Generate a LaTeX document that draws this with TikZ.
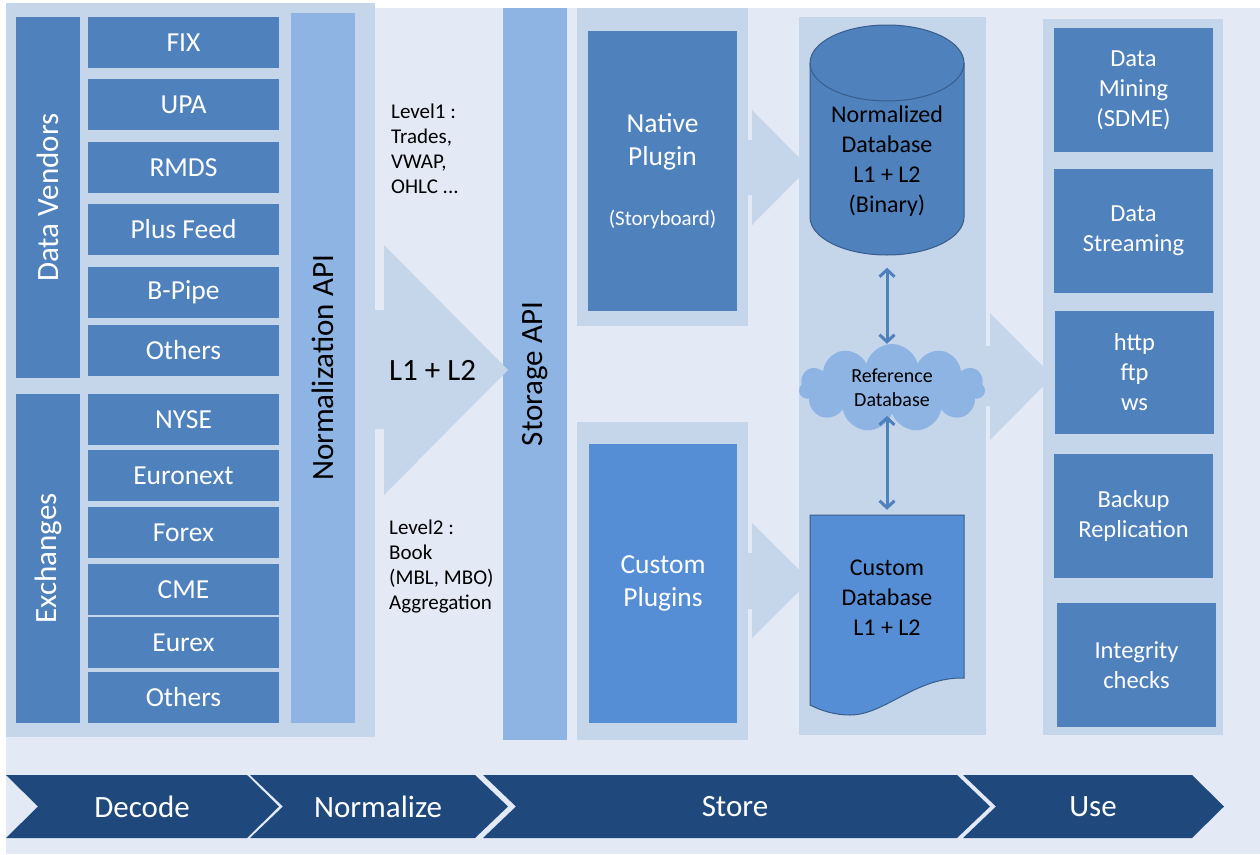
\documentclass[tikz,border=0pt]{standalone}
\usepackage{fontspec}
\setmainfont{Carlito}
\usetikzlibrary{arrows.meta,shapes.symbols,positioning}

\definecolor{pagebg}{RGB}{227,234,246}
\definecolor{panel}{RGB}{197,213,234}
\definecolor{apibar}{RGB}{142,180,227}
\definecolor{box}{RGB}{79,129,189}
\definecolor{custbox}{RGB}{85,142,213}
\definecolor{dbedge}{RGB}{56,93,138}
\definecolor{phase}{RGB}{31,73,125}

\newcommand{\setfs}[2]{\fontsize{#1}{#2}\selectfont}

\begin{document}
\begin{tikzpicture}[
		x=1pt, y=-1pt,
		>={Straight Barb[length=7pt,width=15pt]},
		item/.style={fill=box, text=white, minimum width=191, minimum height=51, inner sep=0, font=\setfs{27.5}{33}},
		group/.style={fill=box, text=white, rotate=90, minimum height=64, inner sep=0, font=\setfs{31}{37}},
		api/.style={fill=apibar, rotate=90, minimum height=64, inner sep=0, font=\setfs{31}{37}},
		plugin/.style={text=white, minimum width=149, minimum height=280, inner sep=0, align=center, font=\setfs{27.5}{33}},
		usebox/.style={fill=box, text=white, minimum width=159, minimum height=124, inner sep=0, align=center, font=\setfs{24.5}{30}},
		dbtext/.style={minimum width=154, inner sep=0, align=center, font=\setfs{24}{30}},
		note/.style={anchor=west, align=left, inner sep=0, font=\setfs{21}{25}},
		phasetext/.style={text=white, inner sep=0, font=\setfs{31}{37}},
		bigarrow/.style={fill=panel},
		link/.style={<->, draw=box, line width=3pt}
	]

	\useasboundingbox (0,0) rectangle (1260,854);
	\fill[pagebg] (6,8) rectangle (1260,854);

	% panels
	\fill[panel] (6,3) rectangle (375,737);
	\fill[panel] (577,8) rectangle (748,326);
	\fill[panel] (577,422) rectangle (748,740);
	\fill[panel] (799,17) rectangle (986,735);
	\fill[panel] (1043,19) rectangle (1223,735);

	% sources
	\node[group, minimum width=361] (vendors) at (48,197.5) {Data Vendors};
	\node[group, minimum width=329] (exchanges) at (48,558.5) {Exchanges};

	\node[item] (fix)      at (183.5,42.5)  {FIX};
	\node[item] (upa)      at (183.5,104.5) {UPA};
	\node[item] (rmds)     at (183.5,167.5) {RMDS};
	\node[item] (plusfeed) at (183.5,229.5) {Plus Feed};
	\node[item] (bpipe)    at (183.5,292.5) {B-Pipe};
	\node[item] (vothers)  at (183.5,350.5) {Others};

	\node[item] (nyse)     at (183.5,419.5) {NYSE};
	\node[item] (euronext) at (183.5,475.5) {Euronext};
	\node[item] (forex)    at (183.5,532.5) {Forex};
	\node[item] (cme)      at (183.5,589.5) {CME};
	\node[item] (eurex)    at (183.5,642.5) {Eurex};
	\node[item] (xothers)  at (183.5,697.5) {Others};

	\node[api, minimum width=710] (normapi) at (323,368) {Normalization API};
	\node[api, minimum width=732] (storeapi) at (535,374) {Storage API};

	% block arrows
	\fill[bigarrow] (370,310) -- (384,310) -- (384,245) -- (508,370) -- (384,495) -- (384,429) -- (370,429) -- cycle;
	\fill[bigarrow] (740,140) -- (752,140) -- (752,110) -- (809,167.5) -- (752,225) -- (752,195) -- (740,195) -- cycle;
	\fill[bigarrow] (740,553) -- (752,553) -- (752,523) -- (810,580.5) -- (752,638) -- (752,609) -- (740,609) -- cycle;
	\fill[bigarrow] (980,346) -- (990,346) -- (990,313) -- (1053,376.5) -- (990,440) -- (990,406) -- (980,406) -- cycle;

	\node[note] (level1) at (391,149) {Level1 :\\Trades,\\VWAP,\\OHLC ...};
	\node[note, font=\setfs{31}{37}] (l1l2) at (389,370) {L1 + L2};
	\node[note] (level2) at (389,567) {Level2 :\\Book\\(MBL, MBO)\\Aggregation};

	% plugins
	\node[plugin, fill=box] (native) at (662.5,171) {Native\\Plugin\\[27pt]{\setfs{21}{25}(Storyboard)}};
	\node[plugin, fill=custbox, minimum width=148, minimum height=279] (custom) at (663,583.5) {Custom\\Plugins};

	% databases
	\filldraw[fill=box, draw=dbedge, line width=1pt] (810,63) -- (810,217)
		arc[start angle=180, end angle=360, x radius=77pt, y radius=38pt] -- (964,63)
		arc[start angle=0, end angle=180, x radius=77pt, y radius=38pt] -- cycle;
	\draw[dbedge, line width=1pt] (810,63) arc[start angle=180, end angle=360, x radius=77pt, y radius=38pt];
	\node[dbtext, minimum height=190] (normdb) at (887,161.5) {Normalized\\Database\\L1 + L2\\(Binary)};

	\filldraw[fill=custbox, draw=dbedge, line width=1pt] (810,515) -- (964,515) -- (964,678)
		.. controls (915,677) and (885,715) .. (850,715)
		.. controls (835,715) and (822,711) .. (810,705) -- cycle;
	\node[dbtext, minimum height=166] (custdb) at (887,598) {Custom\\Database\\L1 + L2};

	\node[cloud, cloud puffs=11, cloud ignores aspect, fill=apibar, minimum width=186, minimum height=88,
		inner sep=0, align=center, font=\setfs{20}{24}] (refdb) at (892,388) {Reference\\Database};

	\draw[link, shorten <=11pt] (normdb.south) -- (normdb.south |- refdb.north);
	\draw[link, shorten <=2pt, shorten >=5pt] (custdb.north |- refdb.south) -- (custdb.north);

	% consumers
	\node[usebox] (mining)    at (1133.5,90)    {Data\\Mining\\(SDME)};
	\node[usebox] (streaming) at (1133.5,231)   {Data\\Streaming};
	\node[usebox, minimum height=123] (protocols) at (1134.5,372.5) {http\\ftp\\ws};
	\node[usebox] (backup)    at (1133.5,516)   {Backup\\Replication};
	\node[usebox] (integrity) at (1136.5,665)   {Integrity\\checks};

	% phases
	\fill[phase] (6,775) -- (247,775) -- (279,806.5) -- (247,838) -- (6,838) -- (38,806.5) -- cycle;
	\fill[phase] (250,775) -- (475,775) -- (508,806.5) -- (475,838) -- (250,838) -- (283,806.5) -- cycle;
	\fill[phase] (483,775) -- (957,775) -- (990,806.5) -- (957,838) -- (483,838) -- (516,806.5) -- cycle;
	\fill[phase] (963,775) -- (1192,775) -- (1224,806.5) -- (1192,838) -- (963,838) -- (996,806.5) -- cycle;
	\node[phasetext] (decode)    at (142,806.5)  {Decode};
	\node[phasetext] (normalize) at (378,806.5)  {Normalize};
	\node[phasetext] (store)     at (735,806.5)  {Store};
	\node[phasetext] (use)       at (1093,806.5) {Use};

\end{tikzpicture}
\end{document}
